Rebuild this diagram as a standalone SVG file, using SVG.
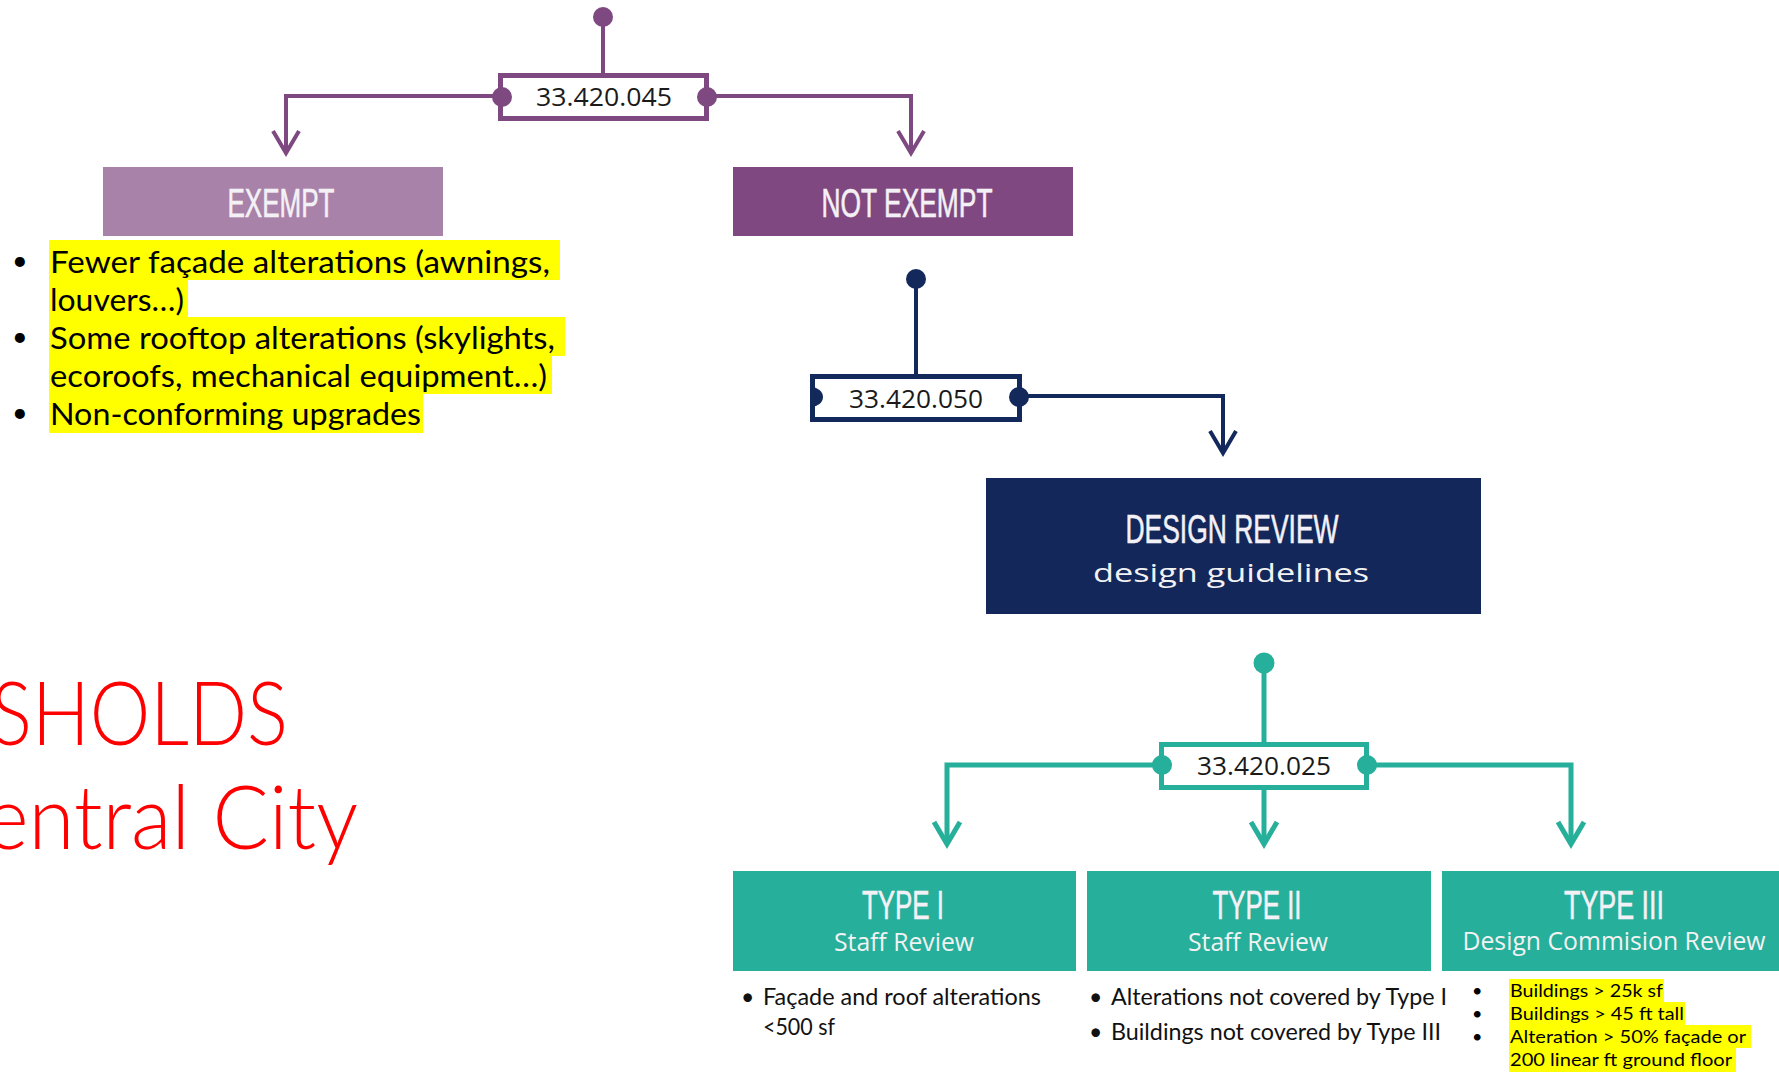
<svg xmlns="http://www.w3.org/2000/svg" width="1779" height="1075" viewBox="0 0 1779 1075">
<style>
.pl{stroke:#7E4881;fill:none;stroke-width:4}
.nv{stroke:#13285B;fill:none;stroke-width:4}
.tl{stroke:#26AF9A;fill:none;stroke-width:5}
.title{font-family:"Liberation Sans",Arial,sans-serif;fill:#F4F1F6;stroke:#F4F1F6;stroke-width:0.6;font-size:40px}
.sub{font-family:"Open Sans","Noto Sans",sans-serif;fill:#F2F2F2;font-size:25px}
.code{font-family:"Open Sans","Noto Sans",sans-serif;fill:#1a1a1a;font-size:25px;text-anchor:middle}
.lst{font-family:Lato,"Noto Sans",sans-serif;fill:#000;font-size:31px}
.blt{font-family:Lato,"Noto Sans",sans-serif;fill:#000;font-size:27px}
.sm{font-family:Lato,"Noto Sans",sans-serif;fill:#111;font-size:23px}
.xs{font-family:Lato,"Noto Sans",sans-serif;fill:#000;font-size:18px}
.red{font-family:Lato,"Open Sans",sans-serif;font-weight:300;fill:#FF0000;font-size:88px}
.hl{fill:#FFFF00}
</style>
<rect width="1779" height="1075" fill="#FFFFFF"/>

<g id="connectors">
  <line class="pl" x1="603" y1="17" x2="603" y2="75"/>
  <polyline class="pl" points="501,96 286,96 286,152"/>
  <polyline class="pl" points="707,96 911,96 911,152"/>
  <polyline class="pl" points="273,131 286,153 299,131"/>
  <polyline class="pl" points="898,131 911,153 924,131"/>
  <circle cx="603" cy="17" r="10" fill="#7E4881"/>
  <line class="nv" x1="916" y1="279" x2="916" y2="374"/>
  <polyline class="nv" points="1019,396 1223,396 1223,452"/>
  <polyline class="nv" points="1210,431 1223,453 1236,431"/>
  <circle cx="916" cy="279" r="10" fill="#13285B"/>
  <line class="tl" x1="1264" y1="663" x2="1264" y2="742"/>
  <polyline class="tl" points="1162,765 947,765 947,843"/>
  <line class="tl" x1="1264" y1="790" x2="1264" y2="843"/>
  <polyline class="tl" points="1367,765 1571,765 1571,843"/>
  <polyline class="tl" points="934,822 947,844 960,822"/>
  <polyline class="tl" points="1251,822 1264,844 1277,822"/>
  <polyline class="tl" points="1558,822 1571,844 1584,822"/>
  <circle cx="1264" cy="663" r="10.5" fill="#26AF9A"/>
</g>

<g id="code-045">
  <rect x="500.5" y="75.5" width="206" height="43" fill="#FFFFFF" stroke="#7E4881" stroke-width="5"/>
  <circle cx="502" cy="97" r="10" fill="#7E4881"/>
  <circle cx="707" cy="97" r="10" fill="#7E4881"/>
  <text class="code" x="604" y="106" textLength="136" lengthAdjust="spacingAndGlyphs">33.420.045</text>
</g>

<g id="exempt">
  <rect x="103" y="167" width="340" height="69" fill="#A882A8"/>
  <text class="title" x="281" y="217" text-anchor="middle" textLength="107" lengthAdjust="spacingAndGlyphs">EXEMPT</text>
</g>

<g id="not-exempt">
  <rect x="733" y="167" width="340" height="69" fill="#7F4880"/>
  <text class="title" x="907" y="217" text-anchor="middle" textLength="171" lengthAdjust="spacingAndGlyphs">NOT EXEMPT</text>
</g>

<g id="exempt-list">
  <rect class="hl" x="49" y="240" width="511" height="40"/>
  <rect class="hl" x="49" y="280" width="139" height="37"/>
  <rect class="hl" x="49" y="317" width="516" height="39"/>
  <rect class="hl" x="49" y="356" width="503" height="38"/>
  <rect class="hl" x="49" y="394" width="374" height="39"/>
  <text class="blt" x="12" y="270">•</text>
  <text class="lst" x="50" y="273" textLength="500" lengthAdjust="spacingAndGlyphs">Fewer façade alterations (awnings,</text>
  <text class="lst" x="50" y="311" textLength="134" lengthAdjust="spacingAndGlyphs">louvers…)</text>
  <text class="blt" x="12" y="346">•</text>
  <text class="lst" x="50" y="349" textLength="505" lengthAdjust="spacingAndGlyphs">Some rooftop alterations (skylights,</text>
  <text class="lst" x="50" y="387" textLength="497" lengthAdjust="spacingAndGlyphs">ecoroofs, mechanical equipment…)</text>
  <text class="blt" x="12" y="422">•</text>
  <text class="lst" x="50" y="425" textLength="371" lengthAdjust="spacingAndGlyphs">Non-conforming upgrades</text>
</g>

<g id="code-050">
  <rect x="812.5" y="376.5" width="207" height="43" fill="#FFFFFF" stroke="#13285B" stroke-width="5"/>
  <path d="M811 387 A12 10 0 0 1 811 407 Z" fill="#13285B"/>
  <circle cx="1019" cy="397" r="10" fill="#13285B"/>
  <text class="code" x="916" y="408" textLength="134" lengthAdjust="spacingAndGlyphs">33.420.050</text>
</g>

<g id="design-review">
  <rect x="986" y="478" width="495" height="136" fill="#13275A"/>
  <text class="title" x="1232" y="543" text-anchor="middle" textLength="213" lengthAdjust="spacingAndGlyphs">DESIGN REVIEW</text>
  <text class="sub" x="1231" y="582" text-anchor="middle" font-size="35" textLength="276" lengthAdjust="spacingAndGlyphs">design guidelines</text>
</g>

<g id="title-red">
  <text class="red" x="-9" y="745" textLength="297" lengthAdjust="spacingAndGlyphs">SHOLDS</text>
  <text class="red" x="-15" y="849" textLength="373" lengthAdjust="spacingAndGlyphs">entral City</text>
</g>

<g id="code-025">
  <rect x="1161.5" y="744.5" width="205" height="43" fill="#FFFFFF" stroke="#26AF9A" stroke-width="5"/>
  <circle cx="1162" cy="765" r="10" fill="#26AF9A"/>
  <circle cx="1367" cy="765" r="10" fill="#26AF9A"/>
  <text class="code" x="1264" y="775" textLength="134" lengthAdjust="spacingAndGlyphs">33.420.025</text>
</g>

<g id="type-1">
  <rect x="733" y="871" width="343" height="100" fill="#26AF9A"/>
  <text class="title" x="903" y="919" text-anchor="middle" textLength="82" lengthAdjust="spacingAndGlyphs">TYPE I</text>
  <text class="sub" x="904" y="951" text-anchor="middle" textLength="140" lengthAdjust="spacingAndGlyphs">Staff Review</text>
  <text class="sm" x="741" y="1005" font-size="16">•</text>
  <text class="sm" x="763" y="1005" textLength="278" lengthAdjust="spacingAndGlyphs">Façade and roof alterations</text>
  <text class="sm" x="763" y="1035" textLength="72" lengthAdjust="spacingAndGlyphs">&lt;500 sf</text>
</g>

<g id="type-2">
  <rect x="1087" y="871" width="344" height="100" fill="#26AF9A"/>
  <text class="title" x="1257" y="919" text-anchor="middle" textLength="89" lengthAdjust="spacingAndGlyphs">TYPE II</text>
  <text class="sub" x="1258" y="951" text-anchor="middle" textLength="140" lengthAdjust="spacingAndGlyphs">Staff Review</text>
  <text class="sm" x="1089" y="1005" font-size="16">•</text>
  <text class="sm" x="1111" y="1005" textLength="336" lengthAdjust="spacingAndGlyphs">Alterations not covered by Type I</text>
  <text class="sm" x="1089" y="1040" font-size="16">•</text>
  <text class="sm" x="1111" y="1040" textLength="330" lengthAdjust="spacingAndGlyphs">Buildings not covered by Type III</text>
</g>

<g id="type-3">
  <rect x="1442" y="871" width="337" height="100" fill="#26AF9A"/>
  <text class="title" x="1614" y="919" text-anchor="middle" textLength="100" lengthAdjust="spacingAndGlyphs">TYPE III</text>
  <text class="sub" x="1614" y="950" text-anchor="middle" textLength="303" lengthAdjust="spacingAndGlyphs">Design Commision Review</text>
  <rect class="hl" x="1509" y="979" width="155" height="23"/>
  <rect class="hl" x="1509" y="1002" width="176" height="23"/>
  <rect class="hl" x="1509" y="1025" width="242" height="23"/>
  <rect class="hl" x="1509" y="1048" width="227" height="24"/>
  <text class="xs" x="1472" y="997" font-size="16">•</text>
  <text class="xs" x="1472" y="1020" font-size="16">•</text>
  <text class="xs" x="1472" y="1043" font-size="16">•</text>
  <text class="xs" x="1510" y="997" textLength="153" lengthAdjust="spacingAndGlyphs">Buildings &gt; 25k sf</text>
  <text class="xs" x="1510" y="1020" textLength="174" lengthAdjust="spacingAndGlyphs">Buildings &gt; 45 ft tall</text>
  <text class="xs" x="1510" y="1043" textLength="236" lengthAdjust="spacingAndGlyphs">Alteration &gt; 50% façade or</text>
  <text class="xs" x="1510" y="1066" textLength="222" lengthAdjust="spacingAndGlyphs">200 linear ft ground floor</text>
</g>
</svg>
